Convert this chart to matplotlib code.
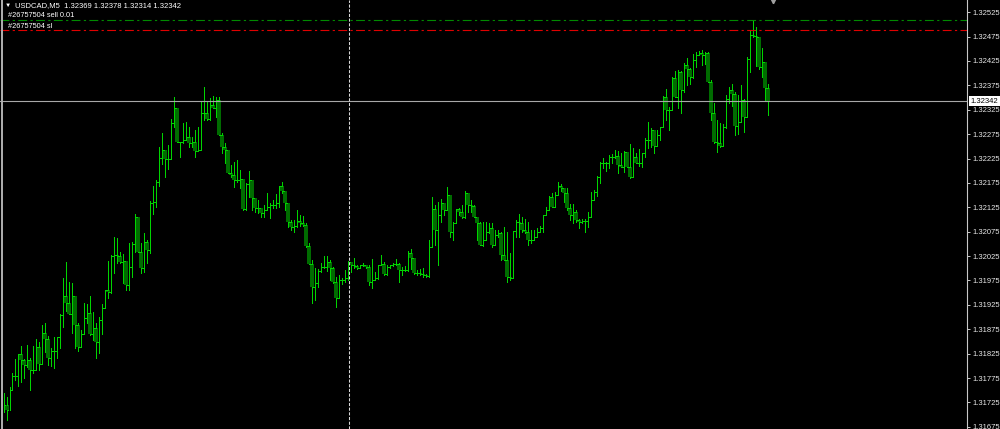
import numpy as np
import matplotlib.pyplot as plt
from matplotlib.lines import Line2D
import matplotlib.transforms as mtransforms

plt.rcParams['font.family'] = ['Liberation Sans', 'DejaVu Sans']

# USDCAD M5 bars, prices in points (1e-5)
opens = [
    131710, 131720, 131710, 131751, 131779, 131779, 131824, 131812, 131802, 131812,
    131792, 131792, 131839, 131804, 131867, 131855, 131816, 131830, 131830, 131859,
    131904, 131943, 131929, 131906, 131943, 131884, 131839, 131865, 131898, 131908,
    131865, 131878, 131849, 131894, 131919, 131956, 131951, 132025, 132027, 132025,
    132013, 132015, 131966, 132003, 132050, 132105, 132033, 132001, 132054, 132038,
    132134, 132136, 132177, 132226, 132243, 132224, 132224, 132298, 132329, 132259,
    132259, 132263, 132269, 132257, 132259, 132240, 132243, 132318, 132318, 132306,
    132335, 132329, 132345, 132273, 132249, 132243, 132195, 132191, 132181, 132181,
    132183, 132122, 132173, 132181, 132144, 132124, 132124, 132113, 132120, 132126,
    132130, 132130, 132134, 132169, 132158, 132134, 132095, 132085, 132087, 132097,
    132093, 132089, 132046, 132009, 131962, 131970, 131994, 132003, 132003, 132013,
    132001, 131972, 131939, 131976, 131976, 131980, 132013, 132007, 132005,
    132001, 132007, 132007,
    132003, 131972, 131976, 131980, 132007, 132009, 131988, 132003,
    132007, 132009, 132009, 131997, 131997, 131997,
    132031, 132021, 131990, 131990, 131988, 131986, 131984, 132044, 132122, 132079,
    132109, 132134, 132120, 132150, 132074, 132093, 132122, 132115, 132105, 132154,
    132130, 132128, 132105, 132093, 132048, 132058, 132074, 132083, 132048, 132068,
    132072, 132027, 132017, 131982, 131980, 132076, 132095, 132093, 132079, 132074,
    132058, 132058, 132064, 132074, 132083, 132109, 132120, 132146, 132126, 132150,
    132169, 132165, 132154, 132124, 132109, 132115, 132099, 132095, 132097, 132097,
    132105, 132140, 132156, 132187, 132216, 132216, 132216, 132228, 132228, 132230,
    132212, 132208, 132238, 132208, 132187, 132228, 132216, 132216, 132236, 132263,
    132263, 132284, 132251, 132273, 132290, 132351, 132325, 132325, 132390, 132351,
    132402, 132366, 132417, 132409, 132392, 132427, 132437, 132441, 132437, 132441,
    132382, 132318, 132259, 132257, 132251, 132290, 132347, 132366, 132357, 132292,
    132300, 132345, 132310, 132429, 132478, 132476, 132474, 132413, 132423, 132369,
]
highs = [
    131744, 131736, 131757, 131785, 131814, 131824, 131841, 131814, 131843, 131816,
    131841, 131855, 131849, 131884, 131888, 131861, 131837, 131859, 131859, 131906,
    131980, 132013, 131972, 131970, 131943, 131888, 131874, 131929, 131927, 131943,
    131910, 131888, 131900, 131927, 131956, 132015, 132027, 132064, 132062, 132033,
    132029, 131994, 132052, 132054, 132111, 132105, 132052, 132072, 132058, 132138,
    132169, 132181, 132249, 132277, 132243, 132253, 132306, 132351, 132325, 132259,
    132298, 132300, 132290, 132269, 132284, 132290, 132341, 132372, 132341, 132349,
    132353, 132351, 132351, 132277, 132257, 132243, 132212, 132218, 132222, 132202,
    132175, 132175, 132199, 132167, 132144, 132140, 132124, 132130, 132154, 132134,
    132140, 132152, 132169, 132177, 132156, 132134, 132099, 132099, 132120, 132109,
    132107, 132093, 132052, 132017, 132001, 131999, 132011, 132025, 132025, 132017,
    132003, 131982, 131986, 131980, 131997, 132015, 132013, 132021, 132007,
    132007, 132011, 132007,
    132007, 132019, 131992, 132007, 132027, 132013, 132007, 132007,
    132011, 132019, 132011, 132003, 132005, 132035,
    132040, 132021, 131997, 131999, 132001, 131988, 132058, 132146, 132130, 132136,
    132142, 132134, 132167, 132148, 132095, 132122, 132124, 132130, 132158, 132154,
    132140, 132130, 132105, 132095, 132095, 132095, 132093, 132093, 132079, 132079,
    132074, 132085, 132074, 132031, 132076, 132099, 132111, 132105, 132101, 132095,
    132079, 132079, 132083, 132087, 132109, 132126, 132148, 132154, 132156, 132177,
    132173, 132165, 132165, 132132, 132132, 132120, 132101, 132101, 132101, 132115,
    132156, 132160, 132189, 132218, 132226, 132218, 132232, 132234, 132243, 132240,
    132236, 132240, 132238, 132255, 132247, 132236, 132245, 132236, 132267, 132300,
    132288, 132267, 132284, 132290, 132353, 132368, 132331, 132392, 132404, 132407,
    132404, 132421, 132431, 132411, 132439, 132443, 132445, 132448, 132443, 132443,
    132386, 132339, 132304, 132298, 132296, 132355, 132372, 132378, 132361, 132355,
    132376, 132347, 132433, 132486, 132509, 132495, 132472, 132452, 132423, 132378,
]
lows = [
    131705, 131689, 131718, 131751, 131771, 131759, 131767, 131775, 131798, 131751,
    131785, 131794, 131792, 131804, 131828, 131802, 131800, 131796, 131816, 131837,
    131880, 131912, 131906, 131867, 131837, 131830, 131843, 131867, 131888, 131863,
    131853, 131816, 131826, 131865, 131919, 131939, 131949, 131990, 132011, 132011,
    131970, 131956, 131956, 131982, 132033, 132033, 131990, 131992, 132011, 132031,
    132111, 132126, 132169, 132214, 132187, 132204, 132226, 132290, 132259, 132228,
    132257, 132269, 132249, 132249, 132228, 132240, 132277, 132304, 132304, 132304,
    132329, 132310, 132273, 132236, 132216, 132195, 132187, 132167, 132177, 132165,
    132120, 132120, 132146, 132120, 132115, 132113, 132105, 132105, 132120, 132103,
    132124, 132124, 132126, 132154, 132120, 132085, 132079, 132074, 132085, 132087,
    132087, 132044, 132009, 131929, 131935, 131962, 131992, 132001, 131994, 131976,
    131970, 131921, 131939, 131968, 131972, 131976, 131992, 132001, 131999,
    132001, 132005, 132001,
    131966, 131960, 131976, 131978, 132007, 131986, 131986, 132001,
    132005, 132007, 131972, 131986, 131994, 131994,
    131999, 131988, 131986, 131986, 131982, 131982, 131982, 132044, 132048, 132007,
    132095, 132109, 132120, 132064, 132058, 132093, 132109, 132103, 132103, 132115,
    132115, 132105, 132058, 132048, 132046, 132072, 132072, 132044, 132064, 132064,
    132017, 132017, 131972, 131976, 132013, 132064, 132064, 132074, 132072, 132048,
    132052, 132062, 132068, 132074, 132074, 132109, 132120, 132126, 132144, 132150,
    132158, 132136, 132120, 132099, 132093, 132095, 132083, 132093, 132074, 132085,
    132105, 132140, 132148, 132175, 132206, 132199, 132206, 132216, 132226, 132195,
    132208, 132197, 132208, 132185, 132187, 132216, 132210, 132208, 132228, 132247,
    132249, 132236, 132251, 132263, 132290, 132304, 132284, 132331, 132351, 132329,
    132318, 132361, 132376, 132378, 132390, 132413, 132437, 132417, 132419, 132382,
    132304, 132257, 132238, 132249, 132259, 132288, 132339, 132333, 132273, 132275,
    132333, 132279, 132310, 132402, 132474, 132415, 132409, 132392, 132345, 132314,
]
closes = [
    131720, 131710, 131751, 131779, 131779, 131824, 131812, 131802, 131812, 131792,
    131792, 131839, 131804, 131867, 131855, 131816, 131830, 131830, 131859, 131904,
    131943, 131929, 131906, 131943, 131884, 131839, 131865, 131898, 131908, 131865,
    131878, 131849, 131894, 131919, 131956, 131951, 132025, 132027, 132025, 132013,
    132015, 131966, 132003, 132050, 132105, 132033, 132001, 132054, 132038, 132134,
    132136, 132177, 132226, 132243, 132224, 132224, 132298, 132329, 132259, 132259,
    132263, 132269, 132257, 132259, 132240, 132243, 132318, 132318, 132306, 132335,
    132329, 132345, 132273, 132249, 132243, 132195, 132191, 132181, 132181, 132183,
    132122, 132173, 132181, 132144, 132124, 132124, 132113, 132120, 132126, 132130,
    132130, 132134, 132169, 132158, 132134, 132095, 132085, 132087, 132097, 132093,
    132089, 132046, 132009, 131962, 131970, 131994, 132003, 132003, 132013, 132001,
    131972, 131939, 131976, 131976, 131980, 132013, 132007, 132005, 132001,
    132007, 132007, 132003,
    131972, 131976, 131980, 132007, 132009, 131988, 132003, 132007,
    132009, 132009, 131997, 131997, 131997, 132031,
    132021, 131990, 131990, 131988, 131986, 131984, 132044, 132122, 132079, 132109,
    132134, 132120, 132150, 132074, 132093, 132122, 132115, 132105, 132154, 132130,
    132128, 132105, 132093, 132048, 132058, 132074, 132083, 132048, 132068, 132072,
    132027, 132017, 131982, 131980, 132076, 132095, 132093, 132079, 132074, 132058,
    132058, 132064, 132074, 132083, 132109, 132120, 132146, 132126, 132150, 132169,
    132165, 132154, 132124, 132109, 132115, 132099, 132095, 132097, 132097, 132105,
    132140, 132156, 132187, 132216, 132216, 132216, 132228, 132228, 132230, 132212,
    132208, 132238, 132208, 132187, 132228, 132216, 132216, 132236, 132263, 132263,
    132284, 132251, 132273, 132290, 132351, 132325, 132325, 132390, 132351, 132402,
    132366, 132417, 132409, 132392, 132427, 132437, 132441, 132437, 132441, 132382,
    132318, 132259, 132257, 132251, 132290, 132347, 132366, 132357, 132292, 132300,
    132345, 132310, 132429, 132478, 132476, 132474, 132413, 132423, 132370, 132342,
]

symbol = "USDCAD,M5"
last_ohlc = ["1.32369", "1.32378", "1.32314", "1.32342"]
order_id = "#26757504"
sell_price = 1.32509
sl_price = 1.32488
bid = 1.32342
separator_bar = 115.2
shift_bar = 256.5
price_ticks = [1.31675, 1.31725, 1.31775, 1.31825, 1.31875, 1.31925,
               1.31975, 1.32025, 1.32075, 1.32125, 1.32175, 1.32225,
               1.32275, 1.32325, 1.32375, 1.32425, 1.32475, 1.32525]

BRIGHT = '#00d400'
DARK = '#006c00'

o = np.array(opens) / 1e5
h = np.array(highs) / 1e5
l = np.array(lows) / 1e5
c = np.array(closes) / 1e5
x = np.arange(len(c))
top = np.maximum(h, np.maximum(o, c))
bot = np.minimum(l, np.minimum(o, c))
bear = c < o

fig = plt.figure(figsize=(10, 4.29), dpi=100)
fig.patch.set_facecolor('black')
ax = fig.add_axes([0, 0, 0.967, 1])
ax.set_facecolor('black')

# bull bars: plain bright line
ax.vlines(x[~bear], bot[~bear], top[~bear], color=BRIGHT, lw=0.6, antialiased=False)
# bear bars: dark body + bright wicks
ax.vlines(x[bear], c[bear], o[bear], color=DARK, lw=1.45, antialiased=False)
ax.vlines(x[bear], o[bear], top[bear], color=BRIGHT, lw=0.6, antialiased=False)
ax.vlines(x[bear], bot[bear], c[bear], color=BRIGHT, lw=0.6, antialiased=False)
# close ticks
ax.hlines(c, x, x + 0.34, color=BRIGHT, lw=0.6, antialiased=False)

# order lines and bid line
ax.axhline(sell_price, color='#008a00', lw=0.8, ls=(0, (8, 3, 2, 3)))
ax.axhline(sl_price, color='#e00000', lw=0.8, ls=(0, (8, 3, 2, 3)))
ax.axhline(bid, color='#a8a8a8', lw=0.8)
ax.axvline(separator_bar, color='#d8d8d8', lw=0.75, ls=(0, (3, 1.5)))

ax.set_xlim(-1.1667, 321.17)
ax.set_ylim(1.316705, 1.32550)
ax.set_xticks([])
ax.yaxis.tick_right()
ax.set_yticks(price_ticks)
ax.set_yticklabels(['%.5f' % p for p in price_ticks])
ax.tick_params(axis='y', colors='#c8c8c8', labelcolor='#e8e8e8', labelsize=5.5,
               length=2, width=0.7, pad=2)
for side in ['left', 'top', 'bottom']:
    ax.spines[side].set_visible(False)
ax.spines['right'].set_color('#c8c8c8')
ax.spines['right'].set_linewidth(0.8)

# bid price box on the scale
trans = mtransforms.blended_transform_factory(ax.transAxes, ax.transData)
ax.text(1.004, bid, last_ohlc[3], transform=trans, ha='left', va='center',
        fontsize=5.5, color='black', clip_on=False,
        bbox=dict(boxstyle='square,pad=0.2', fc='white', ec='none'))

# chart shift marker
ax.plot([shift_bar], [1.32547], marker='v', ms=3.2, color='#a0a0a0',
        clip_on=False, ls='none')

# left border line
fig.add_artist(Line2D([0.0016, 0.0016], [0, 1], color='#b0b0b0', lw=1.4))

# header and order labels
fig.text(0.005, 0.988, '\u25bc', color='white', fontsize=4.5, va='center')
fig.text(0.015, 0.988, symbol + '  ' + ' '.join(last_ohlc), color='white',
         fontsize=5.5, va='center')
fig.text(0.008, 0.965, order_id + ' sell 0.01', color='white', fontsize=5.3, va='center')
fig.text(0.008, 0.939, order_id + ' sl', color='white', fontsize=5.3, va='center')

fig.savefig('out.png', dpi=100, facecolor='black')
